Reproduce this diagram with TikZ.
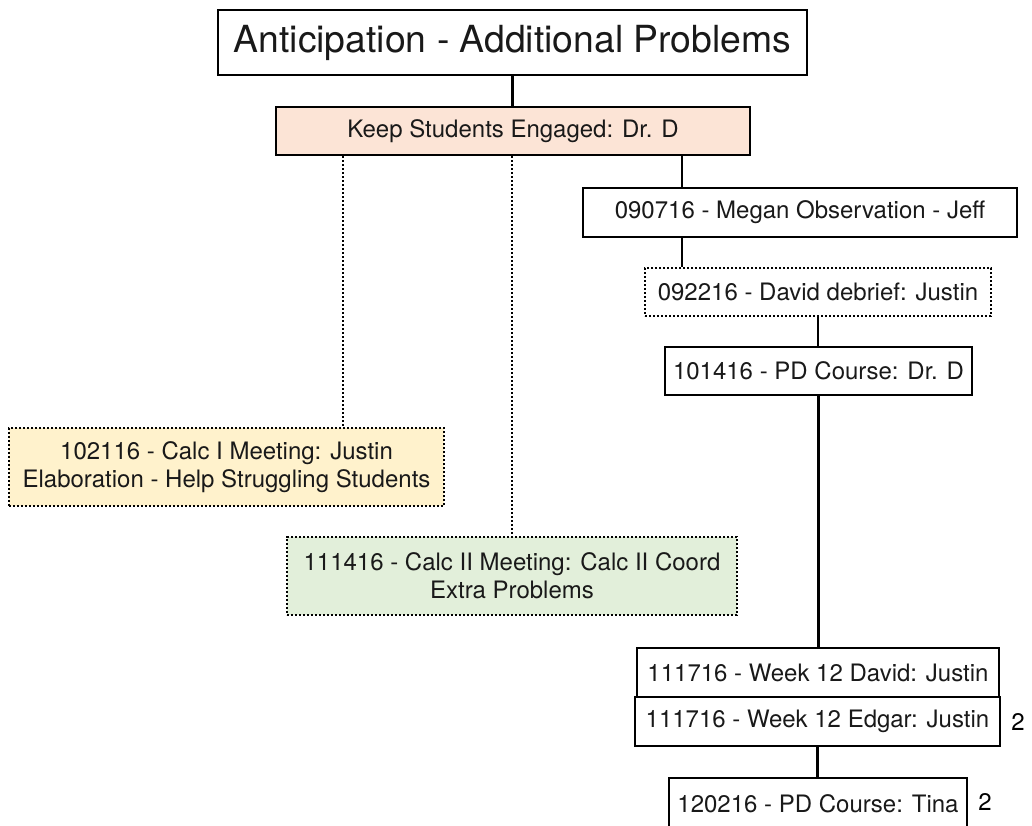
\documentclass[tikz,border=0pt]{standalone}
\usepackage{fontspec}
\setmainfont{TeX Gyre Heros}

\definecolor{engaged_fill}{RGB}{252,228,214}
\definecolor{calcone_fill}{RGB}{255,242,204}
\definecolor{calctwo_fill}{RGB}{226,239,218}

\tikzset{solid_box/.style={rectangle, draw=black, line width=1.8pt, inner sep=0pt, text=black!90, font=\fontsize{18}{21}\selectfont, align=center}}
\tikzset{dotted_box/.style={solid_box, dash pattern=on 1.6pt off 1.4pt}}
\tikzset{title_box/.style={solid_box, font=\fontsize{28}{33}\selectfont}}
\tikzset{edge_solid/.style={line width=1.8pt}}
\tikzset{edge_dotted/.style={line width=1.8pt, dash pattern=on 1.6pt off 1.4pt}}
\tikzset{count_label/.style={inner sep=7.5pt, text=black, font=\fontsize{18}{21}\selectfont}}

\begin{document}
\begin{tikzpicture}[x=0.75pt, y=-0.75pt]
    \useasboundingbox (0,0) rectangle (1032,825);
    \clip (0,0) rectangle (1032,825);
    % boxes
    \draw (512.5,42.5) node[title_box, minimum width=441.75pt, minimum height=48.75pt] (title) {Anticipation - Additional Problems};
    \draw (513,131) node[solid_box, fill=engaged_fill, minimum width=355.5pt, minimum height=36pt] (engaged) {Keep Students Engaged: Dr. D};
    \draw (800,212.5) node[solid_box, minimum width=325.5pt, minimum height=36.75pt] (megan) {090716 - Megan Observation - Jeff};
    \draw (818,292) node[dotted_box, minimum width=259.5pt, minimum height=36pt] (debrief) {092216 - David debrief: Justin};
    \draw (818.5,371) node[solid_box, minimum width=230.25pt, minimum height=36pt] (pdone) {101416 - PD Course: Dr. D};
    \draw (226.5,467) node[dotted_box, fill=calcone_fill, minimum width=326.25pt, minimum height=58.5pt] (calcone) {102116 - Calc I Meeting: Justin\\Elaboration - Help Struggling Students};
    \draw (512,576) node[dotted_box, fill=calctwo_fill, minimum width=337.5pt, minimum height=58.5pt] (calctwo) {111416 - Calc II Meeting: Calc II Coord\\Extra Problems};
    \draw (818,672.5) node[solid_box, minimum width=271.5pt, minimum height=36.75pt] (david) {111716 - Week 12 David: Justin};
    \draw (817.5,721.5) node[solid_box, minimum width=273.75pt, minimum height=36.75pt, label={[count_label]right:2}] (edgar) {111716 - Week 12 Edgar: Justin};
    \draw (818,804) node[solid_box, minimum width=223.5pt, minimum height=39pt, label={[count_label, yshift=1.5pt]right:2}] (tina) {120216 - PD Course: Tina};
    % connectors
    \draw[edge_solid] (title.south) -- (title.south |- engaged.north);
    \draw[edge_dotted] ([xshift=51pt]engaged.south west) -- ([xshift=51pt]engaged.south west |- calcone.north);
    \draw[edge_dotted] (calctwo.north |- engaged.south) -- (calctwo.north);
    \draw[edge_solid] ([xshift=75pt]megan.north west |- engaged.south) -- ([xshift=75pt]megan.north west);
    \draw[edge_solid] ([xshift=75pt]megan.south west) -- ([xshift=75pt]megan.south west |- debrief.north);
    \draw[edge_solid] (debrief.south) -- (debrief.south |- pdone.north);
    \draw[edge_solid] (pdone.south) -- (pdone.south |- david.north);
    \draw[edge_solid] (edgar.south) -- (edgar.south |- tina.north);
\end{tikzpicture}
\end{document}
